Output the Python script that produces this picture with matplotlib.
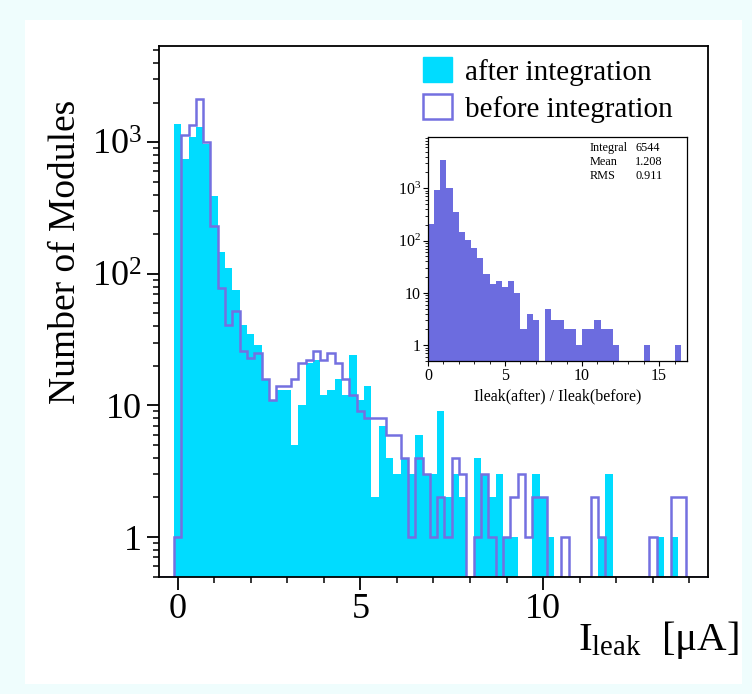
import numpy as np
import matplotlib
matplotlib.use('Agg')
import matplotlib.pyplot as plt
from matplotlib.patches import Patch, Rectangle
from matplotlib.ticker import LogLocator, MultipleLocator, NullFormatter

plt.rcParams['font.family'] = ['Liberation Serif', 'DejaVu Serif']
plt.rcParams['mathtext.fontset'] = 'custom'
plt.rcParams['mathtext.rm'] = 'Liberation Serif'
plt.rcParams['mathtext.it'] = 'Liberation Serif:italic'

# main histogram: bins of width 0.2, centres 0.0 ... 13.8
bin_width = 0.2
after_counts = [1380, 750, 1100, 1300, 960, 390, 147, 110, 75, 41,
                35, 29, 16, 11, 13, 13, 5, 10, 21, 22,
                12, 13, 16, 12, 24, 11, 14, 2, 7, 4,
                3, 4, 3, 6, 3, 3, 9, 2, 3, 2,
                0, 4, 3, 2, 3, 1, 1, 0, 0, 3,
                2, 1, 0, 0, 0, 0, 0, 0, 1, 3,
                0, 0, 0, 0, 0, 0, 1, 0, 1, 0]
before_counts = [1, 1140, 1340, 2140, 1000, 229, 78, 41, 52, 26,
                 23, 25, 16, 11, 14, 14, 16, 21, 22, 26,
                 22, 25, 21, 16, 12, 9, 8, 8, 8, 6,
                 6, 4, 1, 4, 3, 1, 2, 1, 4, 3,
                 0, 1, 3, 1, 0, 1, 2, 3, 1, 2,
                 2, 0, 0, 1, 0, 0, 0, 2, 1, 0,
                 0, 0, 0, 0, 0, 1, 0, 0, 2, 2]

# inset: ratio after/before, bins of width 0.4 from 0
ratio_width = 0.4
ratio_counts = [208, 930, 3500, 1000, 350, 146, 104, 72, 47, 23,
                15, 17, 13, 17, 10, 2, 4, 3, 0, 5,
                3, 3, 2, 2, 1, 2, 2, 3, 2, 2,
                1, 0, 0, 0, 0, 1, 0, 0, 0, 0, 1]
stats_names = ['Integral', 'Mean', 'RMS']
stats_values = ['6544', '1.208', '0.911']

cyan = '#00dcff'
purple = '#7470e0'
inset_col = '#6c6cdf'

fig = plt.figure(figsize=(7.52, 6.94), dpi=100)
fig.patch.set_facecolor('#effdfd')
fig.patches.append(Rectangle((0.0332, 0.0144), 0.9535, 0.9568, transform=fig.transFigure,
                             facecolor='white', edgecolor='none', zorder=-5))

ax = fig.add_axes([0.2118, 0.169, 0.7293, 0.7651])
ax.set_yscale('log')
edges = -0.1 + bin_width * np.arange(len(after_counts) + 1)
after = np.array(after_counts, dtype=float)
before = np.array(before_counts, dtype=float)
ax.stairs(np.where(after > 0, after, 0.01), edges, fill=True, baseline=0.01,
          color=cyan, lw=0)
# pad with empty bins so the outline runs along the bottom
before_pad = np.concatenate([[0, 0], before, [0, 0, 0]])
edges_pad = -0.5 + bin_width * np.arange(len(before_pad) + 1)
ax.stairs(np.where(before_pad > 0, before_pad, 0.5), edges_pad, color=purple, lw=1.8,
          baseline=None)

ax.set_xlim(-0.5, 14.5)
ax.set_ylim(0.5, 5400)
ax.set_yticks([1, 10, 100, 1000])
ax.set_yticklabels(['1', '10', r'$10^{2}$', r'$10^{3}$'])
ax.yaxis.set_minor_locator(LogLocator(base=10, subs=np.arange(2, 10)))
ax.yaxis.set_minor_formatter(NullFormatter())
ax.xaxis.set_major_locator(MultipleLocator(5))
ax.xaxis.set_minor_locator(MultipleLocator(1))
ax.tick_params(axis='both', which='major', direction='out', length=9, width=1.3,
               labelsize=26, top=False, right=False)
ax.tick_params(axis='both', which='minor', direction='out', length=4.5, width=1.1,
               top=False, right=False)
ax.tick_params(axis='x', which='major', pad=3)
for s in ax.spines.values():
    s.set_linewidth(1.3)

fig.text(0.087, 0.637, 'Number of Modules', rotation=90, ha='center', va='center',
         fontsize=27)
fig.text(0.983, 0.063, r'$\mathrm{I_{leak}}$  [μA]', ha='right', va='baseline', fontsize=29.5)

handles = [Patch(facecolor=cyan, edgecolor=cyan),
           Patch(facecolor='white', edgecolor=purple, lw=1.8)]
fig.legend(handles, ['after integration', 'before integration'], loc='upper left',
           bbox_to_anchor=(0.562, 0.918), frameon=False, fontsize=21,
           handlelength=1.0, handleheight=0.95, handletextpad=0.45,
           labelspacing=0.3, borderpad=0, borderaxespad=0)

# inset
axi = fig.add_axes([0.569, 0.4798, 0.3444, 0.3228])
axi.set_yscale('log')
r_edges = ratio_width * np.arange(len(ratio_counts) + 1)
rc = np.array(ratio_counts, dtype=float)
axi.stairs(np.where(rc > 0, rc, 0.01), r_edges, fill=True, baseline=0.01,
           color=inset_col, lw=0)
axi.set_xlim(0, 16.8)
axi.set_ylim(0.5, 9500)
axi.set_yticks([1, 10, 100, 1000])
axi.set_yticklabels(['1', '10', r'$10^{2}$', r'$10^{3}$'])
axi.yaxis.set_minor_locator(LogLocator(base=10, subs=np.arange(2, 10)))
axi.yaxis.set_minor_formatter(NullFormatter())
axi.xaxis.set_major_locator(MultipleLocator(5))
axi.xaxis.set_minor_locator(MultipleLocator(1))
axi.tick_params(axis='both', which='major', direction='out', length=3.5, width=0.8,
                labelsize=11.5, pad=1.5, top=False, right=False)
axi.tick_params(axis='both', which='minor', direction='out', length=2, width=0.6,
                top=False, right=False)
for s in axi.spines.values():
    s.set_linewidth(0.9)
axi.set_xlabel('Ileak(after) / Ileak(before)', fontsize=11.5, labelpad=3)

for i in range(len(stats_names)):
    axi.text(0.624, 0.952 - i * 0.063, stats_names[i], transform=axi.transAxes,
             fontsize=8.8, va='center', ha='left')
    axi.text(0.80, 0.952 - i * 0.063, stats_values[i], transform=axi.transAxes,
             fontsize=8.8, va='center', ha='left')

fig.savefig('out.png', dpi=100, facecolor=fig.get_facecolor())
